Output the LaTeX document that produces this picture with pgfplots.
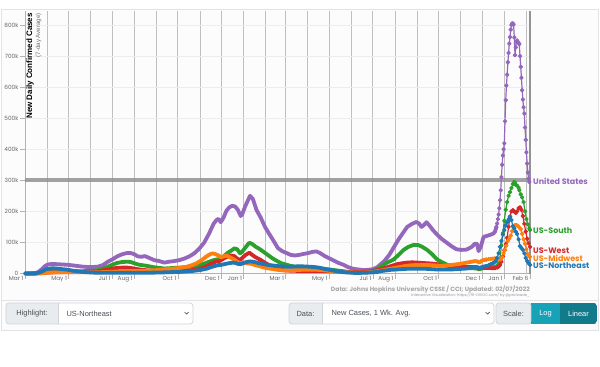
\documentclass[border=0pt]{standalone}
\usepackage{pgfplots}
\pgfplotsset{compat=1.18}
\usepackage{fontspec}
\setmainfont{Liberation Sans}
\newfontfamily\pop{Poppins}

\definecolor{cUS}{HTML}{9467BD}
\definecolor{cS}{HTML}{2CA02C}
\definecolor{cW}{HTML}{D62728}
\definecolor{cMW}{HTML}{FF7F0E}
\definecolor{cNE}{HTML}{1F77B4}
\definecolor{uiText}{HTML}{495057}
\definecolor{uiGray}{HTML}{E9ECEF}
\definecolor{uiBorder}{HTML}{CED4DA}
\definecolor{tealA}{HTML}{17A2B8}
\definecolor{tealB}{HTML}{117A8B}
\definecolor{panel}{HTML}{FCFCFD}
\definecolor{panelline}{HTML}{E3E3E6}

\pgfplotsset{
  thickline/.style={no marks, line width=3.8bp, line join=round, line cap=round},
  thinline/.style={line width=1.2bp, line join=round, mark=*, mark size=1.6bp, mark options={solid}},
}

\begin{document}
\begin{tikzpicture}[x=1bp,y=1bp]
\fill[white] (0,0) rectangle (600,366);
\filldraw[fill=panel, draw=panelline, line width=0.8bp] (1.5,36) rectangle (598.5,357);
\draw[panelline, line width=0.8bp] (1.5,66) -- (598.5,66);

\begin{axis}[
  at={(25bp,92.5bp)}, anchor=south west,
  scale only axis, width=505bp, height=262.5bp,
  xmin=0, xmax=707, ymin=0, ymax=845,
  axis x line*=bottom, axis y line*=left,
  axis line style={draw=gray!60, line width=0.9bp},
  xtick={0,61,122,153,214,275,306,365,426,487,518,579,640,671,707},
  xticklabels={Mar 1,May 1,Jul 1,Aug 1,Oct 1,Dec 1,Jan 1,Mar 1,May 1,Jul 1,Aug 1,Oct 1,Dec 1,Jan 1,Feb 6},
  minor xtick={31,92,184,245,337,396,457,549,610,702},
  ytick={0,100,200,300,400,500,600,700,800},
  yticklabels={0,100k,200k,300k,400k,500k,600k,700k,800k},
  xmajorgrids, xminorgrids, ymajorgrids,
  major x grid style={draw=gray!50, line width=0.8bp},
  minor x grid style={draw=gray!50, line width=0.8bp},
  major y grid style={draw=gray!14, line width=0.8bp},
  tick align=outside,
  major tick length=5bp, minor tick length=0pt,
  tick style={draw=gray!60, line width=0.7bp},
  every tick label/.append style={font=\pop\fontsize{5.8}{6}\selectfont, text=black!60},
  xticklabel style={anchor=north east, inner sep=0pt, xshift=-1.5bp, yshift=2.5bp},
  yticklabel style={inner sep=1.5bp},
  clip=false,
]
% United States
\addplot[thickline, color=cUS] coordinates {
(0,0.1)(7,0.3)(14,1.5)(18,4)(21,9)(25,17)(28,24)(32,29)(38,31)(45,30)(52,29)(60,28)(67,26)(74,24)(81,22)(88,21)(95,21)(102,22)(109,27)(116,38)(122,45)(129,55)(136,62)(143,66)(148,66)(153,62)(158,55)(163,54)(168,56)(174,50)(181,43)(188,40)(195,35)(202,38)(209,40)(216,43)(223,48)(230,55)(237,65)(244,80)(251,100)(258,130)(264,160)(268,172)(271,176)(274,165)(278,180)(282,202)(286,213)(290,218)(294,216)(298,205)(302,185)(304,190)(308,215)(312,235)(315,250)(319,240)(324,205)(330,180)(336,150)(342,127)(348,105)(354,82)(360,72)(366,66)(372,60)(378,58)(384,60)(390,63)(397,66)(403,70)(408,71)(413,66)(419,57)(426,49)(432,42)(439,34)(446,28)(453,20)(460,15)(467,13)(474,11)(481,12)(487,14)(493,20)(498,30)(503,40)(510,60)(516,83)(523,110)(529,130)(535,150)(542,160)(548,166)(552,160)(555,150)(558,155)(562,165)(566,155)(571,140)(577,125)(583,112)(590,100)(597,88)(604,78)(611,76)(618,77)(625,85)(630,96)(633,95)(635,72)(638,85)(642,118)(648,122)(653,126)(656,129)(658,135)(660,150)
};
\addplot[thinline, color=cUS] coordinates {
(660,150)(661,161)(662,175)(663,190)(664,210)(665,236)(666,268)(667,310)(668,350)(669,380)(670,400)(671,419)(672,490)(673,558)(674,605)(675,640)(676,680)(677,710)(678,740)(679,761)(680,785)(681,800)(682,805)(683,805)(684,802)(685,760)(686,703)(687,728)(688,746)(689,750)(690,745)(691,742)(692,738)(693,700)(694,665)(695,630)(696,590)(697,560)(698,535)(699,515)(700,470)(701,430)(702,390)(703,354)(704,325)(705,305)(706,295)
};
% US-South
\addplot[thickline, color=cS] coordinates {
(0,0)(14,0.2)(21,1)(28,3)(35,5)(45,6.5)(60,7)(75,7)(88,8)(95,9)(102,11)(109,15)(116,22)(122,28)(129,34)(136,37)(143,38)(148,37)(153,33)(160,28)(167,26)(174,23)(181,20)(188,18)(195,16)(202,17)(209,18)(216,19)(223,20)(230,22)(237,24)(244,27)(251,32)(258,38)(264,43)(270,46)(274,44)(278,55)(284,67)(289,74)(293,81)(297,78)(301,65)(304,70)(309,85)(314,99)(318,95)(323,86)(329,78)(335,68)(341,58)(347,48)(353,40)(359,33)(365,29)(371,25)(378,22)(385,21)(392,20)(400,19)(408,18)(415,16)(422,14)(429,12)(436,10)(443,8)(450,6)(457,5)(464,5)(471,5)(478,6)(487,8)(493,14)(500,25)(507,35)(516,45)(523,60)(530,76)(537,86)(544,92)(550,92)(556,86)(563,76)(570,62)(577,45)(584,36)(591,28)(598,24)(605,21)(612,19)(619,18)(626,17)(633,16)(636,13)(639,16)(644,18)(650,19)(655,20)
};
\addplot[thinline, color=cS] coordinates {
(655,20)(658,22)(661,25)(663,32)(665,49)(667,90)(669,130)(671,170)(673,205)(675,230)(677,250)(679,262)(681,275)(683,288)(685,295)(686,292)(687,285)(689,283)(691,276)(692,268)(694,255)(696,245)(698,230)(700,200)(702,175)(704,158)(706,145)(707,140)
};
% US-West
\addplot[thickline, color=cW] coordinates {
(0,0)(14,0.3)(21,1)(28,2.5)(35,3.5)(45,4)(60,4)(75,4.5)(88,5)(102,7)(109,10)(116,13)(122,16)(129,18)(136,19)(143,19)(150,17)(157,14)(164,12)(171,10)(178,9)(185,8)(192,7)(199,7)(206,7.5)(213,8)(220,9)(227,10)(234,11)(241,14)(248,18)(255,24)(261,32)(267,38)(272,40)(276,45)(281,52)(285,55)(289,58)(293,56)(297,48)(301,43)(305,52)(309,60)(314,67)(318,60)(323,52)(329,45)(335,36)(341,28)(347,20)(353,15)(359,12)(365,10)(372,9)(380,8.5)(390,8)(400,8)(410,8)(420,7.5)(430,7)(440,6)(450,5)(460,4.5)(470,5)(480,6)(487,8)(493,11)(500,15)(507,20)(514,25)(521,30)(528,33)(535,35)(542,36)(549,35)(556,34)(563,33)(570,32)(577,30)(584,27)(591,25)(598,23)(605,22)(612,22)(619,21)(626,21)(632,20)(635,15)(638,19)(644,18)(650,18)(655,17)
};
\addplot[thinline, color=cW] coordinates {
(655,17)(658,17)(661,19)(663,22)(665,28)(667,38)(669,55)(671,75)(673,95)(675,115)(677,150)(679,183)(681,200)(683,204)(685,200)(687,195)(689,200)(691,210)(693,213)(695,205)(697,185)(699,160)(701,135)(703,112)(705,97)(707,86)
};
% US-Midwest
\addplot[thickline, color=cMW] coordinates {
(0,0)(14,0.2)(21,0.8)(28,2)(35,3)(45,4)(55,4.5)(65,5)(75,4.5)(88,4)(102,4)(116,5)(129,6.5)(143,7.5)(157,8)(171,9)(185,11)(199,14)(213,17)(220,19)(227,22)(234,27)(241,34)(248,44)(254,55)(259,62)(263,65)(267,62)(271,58)(274,52)(278,55)(282,58)(287,52)(292,46)(297,38)(301,33)(305,33)(309,33)(315,32)(321,28)(329,23)(337,18)(345,15)(353,12)(361,10)(369,10)(379,11)(389,12)(399,12)(409,12)(419,10)(429,8)(439,6)(449,4.5)(459,3.5)(469,3)(479,3.5)(489,6)(497,9)(504,12)(511,15)(518,18)(525,21)(532,24)(539,26)(546,27)(553,27)(560,27)(567,27)(574,26)(581,25)(588,26)(595,27)(602,29)(609,31)(616,34)(623,37)(630,40)(633,39)(636,35)(640,42)(646,45)
};
\addplot[thinline, color=cMW] coordinates {
(646,45)(649,46)(652,47)(655,48)(658,49)(661,48)(664,46)(666,45)(668,52)(670,65)(672,76)(674,90)(676,105)(678,113)(680,122)(682,136)(684,148)(686,156)(688,156)(690,153)(692,148)(694,143)(696,128)(698,110)(700,96)(702,78)(704,62)(706,55)(707,54)
};
% US-Northeast
\addplot[thickline, color=cNE] coordinates {
(0,0)(7,0.1)(14,0.5)(18,2)(21,4)(25,8)(28,12)(32,15)(38,17)(45,16)(52,14)(60,12)(67,9)(74,7)(81,5)(88,4)(95,3)(102,2.5)(116,2.5)(130,2.5)(150,2.5)(170,2.5)(185,3)(200,4)(215,5)(230,7)(245,11)(255,16)(261,21)(267,25)(271,27)(275,28)(281,31)(287,34)(293,35)(298,31)(302,30)(307,35)(312,38)(316,39)(321,37)(326,34)(332,31)(339,28)(346,26)(353,24)(360,23)(367,22)(374,22)(381,23)(389,23)(397,22)(404,21)(411,19)(419,15)(426,12)(433,9)(440,6)(447,4)(454,3)(461,2)(469,2)(477,2.5)(485,3.5)(493,5)(499,8)(506,10)(513,12)(520,13)(527,14)(534,15)(541,15)(548,15)(555,15)(562,15)(569,14)(576,13)(583,13)(590,13)(597,13)(604,14)(611,15)(618,16)(625,18)(631,21)(634,20)(637,17)(641,22)(646,24)
};
\addplot[thinline, color=cNE] coordinates {
(646,24)(649,27)(652,30)(655,33)(657,36)(659,40)(661,50)(663,65)(665,86)(667,105)(669,125)(671,140)(673,155)(675,165)(677,175)(679,183)(681,172)(683,152)(685,145)(687,135)(689,127)(691,110)(693,88)(695,82)(697,76)(699,65)(701,50)(703,40)(705,33)(707,28)
};
% 300k reference line and right edge
\addplot[no marks, color=black!48, line width=4bp, opacity=0.75] coordinates {(0,300)(707,300)};
\addplot[no marks, color=gray!85, line width=1.4bp] coordinates {(707,0)(707,845)};
\end{axis}

% axis title
\node[rotate=90, anchor=east, inner sep=0pt, font=\bfseries\fontsize{8}{9}\selectfont] at (30,353) {New Daily Confirmed Cases};
\node[rotate=90, anchor=east, inner sep=0pt, text=black!55, font=\fontsize{6.2}{7}\selectfont] at (38.5,353) {(7-day Average)};

% end labels
\begin{scope}[every node/.style={anchor=west, inner sep=0pt, font=\pop\bfseries\fontsize{8}{9}\selectfont}]
\node[text=cUS] at (533,185) {United States};
\node[text=cS] at (533,135) {US-South};
\node[text=cW] at (533,115) {US-West};
\node[text=cMW] at (533,107.5) {US-Midwest};
\node[text=cNE] at (533,100.5) {US-Northeast};
\end{scope}

% credits
\node[anchor=east, inner sep=0pt, text=black!35, font=\pop\bfseries\fontsize{6.1}{7}\selectfont] at (530,77) {Data: Johns Hopkins University CSSE / CCI; Updated: 02/07/2022};
\node[anchor=east, inner sep=0pt, text=black!40, font=\pop\fontsize{3.7}{4}\selectfont] at (530,70.8) {Interactive Visualization: https://91-DIVOC.com/ by @profwade\_};

% controls
\begin{scope}[font=\fontsize{7.5}{9}\selectfont, text=uiText]
\begin{scope}
\clip[rounded corners=3bp] (6,42) rectangle (193,63);
\fill[white] (6,42) rectangle (193,63);
\fill[uiGray] (6,42) rectangle (58,63);
\end{scope}
\draw[uiBorder, line width=0.7bp, rounded corners=3bp] (6,42) rectangle (193,63);
\draw[uiBorder, line width=0.7bp] (58,42) -- (58,63);
\node at (32,52.5) {Highlight:};
\node[anchor=west] at (63,52.5) {US-Northeast};
\draw[uiText, line width=0.7bp] (184.5,54) -- (186.5,52) -- (188.5,54);

\begin{scope}
\clip[rounded corners=3bp] (289,42) rectangle (494,63);
\fill[white] (289,42) rectangle (494,63);
\fill[uiGray] (289,42) rectangle (322,63);
\end{scope}
\draw[uiBorder, line width=0.7bp, rounded corners=3bp] (289,42) rectangle (494,63);
\draw[uiBorder, line width=0.7bp] (322,42) -- (322,63);
\node at (305.5,52.5) {Data:};
\node[anchor=west] at (328,52.5) {New Cases, 1 Wk. Avg.};
\draw[uiText, line width=0.7bp] (485.5,54) -- (487.5,52) -- (489.5,54);

\begin{scope}
\clip[rounded corners=3bp] (496,42) rectangle (597,63);
\fill[uiGray] (496,42) rectangle (531,63);
\fill[tealA] (531,42) rectangle (560,63);
\fill[tealB] (560,42) rectangle (597,63);
\end{scope}
\draw[uiBorder, line width=0.7bp, rounded corners=3bp] (496,42) -- (531,42) -- (531,63) -- (496,63) -- cycle;
\node at (513.5,52.5) {Scale:};
\node[text=white] at (545.5,52.5) {Log};
\node[text=white] at (578.5,52.5) {Linear};
\end{scope}
\end{tikzpicture}
\end{document}
